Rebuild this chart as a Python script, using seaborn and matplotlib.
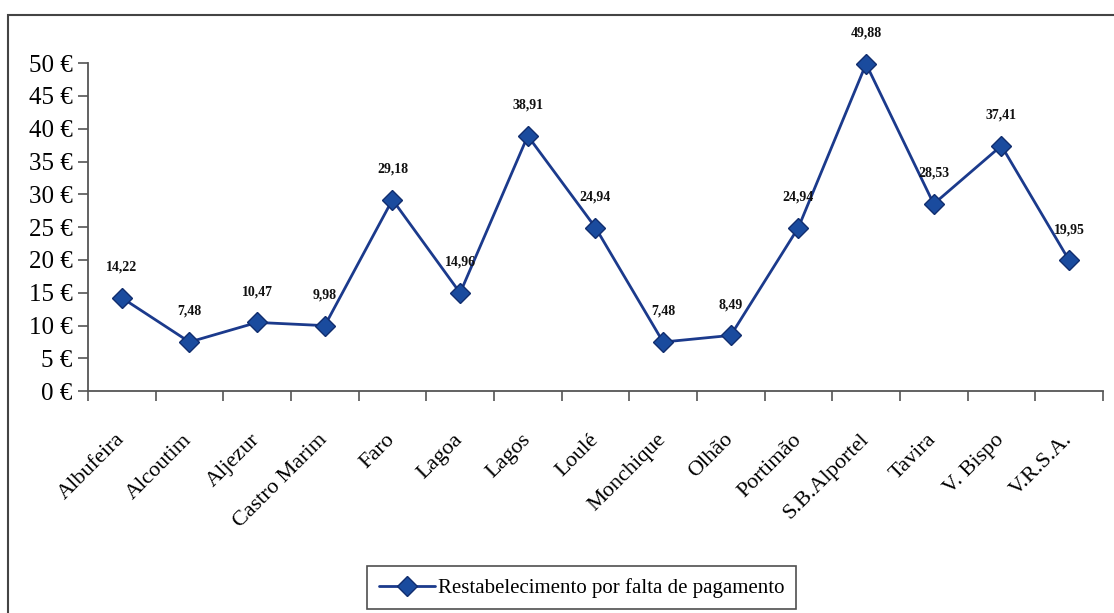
import matplotlib
matplotlib.use("Agg")
import matplotlib.pyplot as plt
import seaborn as sns
import pandas as pd
from matplotlib.patches import Rectangle
from matplotlib.ticker import FixedLocator

municipios = ["Albufeira", "Alcoutim", "Aljezur", "Castro Marim", "Faro", "Lagoa",
              "Lagos", "Loulé", "Monchique", "Olhão", "Portimão", "S.B.Alportel",
              "Tavira", "V. Bispo", "V.R.S.A."]
valores = [14.22, 7.48, 10.47, 9.98, 29.18, 14.96, 38.91, 24.94, 7.48, 8.49,
           24.94, 49.88, 28.53, 37.41, 19.95]
serie = "Restabelecimento por falta de pagamento"
y_ticks = [0, 5, 10, 15, 20, 25, 30, 35, 40, 45, 50]

sns.set_theme(style="white")
plt.rcParams['font.family'] = ['Liberation Serif', 'DejaVu Serif']
plt.rcParams['text.color'] = 'black'
plt.rcParams['xtick.color'] = 'black'
plt.rcParams['ytick.color'] = 'black'

df = pd.DataFrame({"Município": municipios, "Valor": valores})
df["pos"] = range(len(municipios))

fig = plt.figure(figsize=(11.14, 6.13), dpi=100)
ax = fig.add_axes([0.079, 0.362, 0.911, 0.535])

sns.lineplot(data=df, x="pos", y="Valor", ax=ax, color="#1b3a8c", linewidth=2.0,
             marker="D", markersize=10, markerfacecolor="#1a4b9e",
             markeredgecolor="#112d6e", markeredgewidth=1.0, label=serie,
             clip_on=False)

for x, v in zip(df["pos"], valores):
    ax.annotate(f"{v:.2f}".replace(".", ","), (x, v), xytext=(0, 22),
                textcoords="offset points", ha="center", va="center",
                fontsize=10, fontweight="bold", color="#111111")

ax.set_xlim(-0.5, len(municipios) - 0.5)
ax.set_ylim(0, 50)
ax.set_yticks(y_ticks)
ax.set_yticklabels([f"{t} €" for t in y_ticks], fontsize=18)
ax.set_xticks(list(df["pos"]))
ax.set_xticklabels(municipios, rotation=45, ha="right", va="center",
                   rotation_mode="anchor", fontsize=16)
ax.xaxis.set_minor_locator(FixedLocator([i - 0.5 for i in range(len(municipios) + 1)]))
ax.tick_params(axis="x", which="major", length=0, pad=33)
ax.tick_params(axis="x", which="minor", length=7, width=1.2, color="#555555",
               direction="out", bottom=True)
ax.tick_params(axis="y", length=7, width=1.2, color="#555555", direction="out",
               left=True, pad=4)
ax.set_xlabel("")
ax.set_ylabel("")
for s in ["top", "right"]:
    ax.spines[s].set_visible(False)
for s in ["left", "bottom"]:
    ax.spines[s].set_color("#555555")
    ax.spines[s].set_linewidth(1.3)

ax.get_legend().remove()
leg = fig.legend(loc="center", bbox_to_anchor=(0.522, 0.041), fontsize=15,
                 frameon=True, fancybox=False, edgecolor="#222222",
                 handlelength=2.7, borderpad=0.55, handletextpad=0.15)
leg.get_frame().set_linewidth(1.2)

top = 1 - 15 / 613
fig.patches.append(Rectangle((8 / 1114, -0.02), 1.02, top + 0.02,
                             transform=fig.transFigure, fill=False,
                             edgecolor="#444444", linewidth=1.5))

fig.savefig("out.png", dpi=100, facecolor="white")
